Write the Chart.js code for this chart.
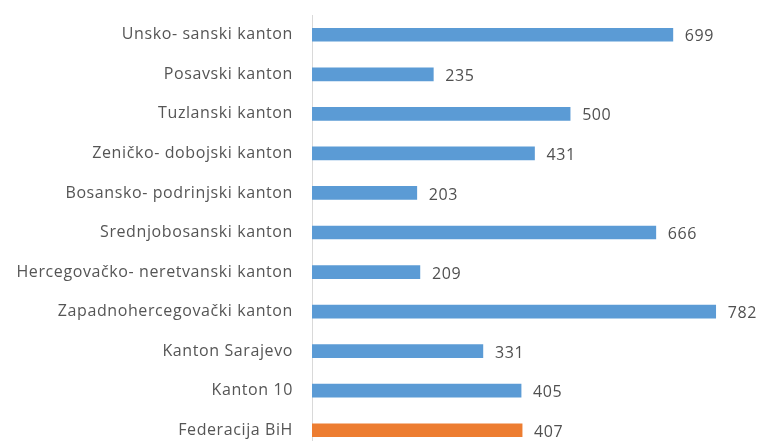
<!DOCTYPE html>
<html>
<head>
<meta charset="utf-8">
<script src="https://cdn.jsdelivr.net/npm/chart.js@4/dist/chart.umd.min.js"></script>
<style>
html,body{margin:0;padding:0;background:#fff;overflow:hidden;}
#wrap{position:absolute;left:0;top:0;width:762px;height:468px;}
</style>
</head>
<body>
<div id="wrap"><canvas id="c" width="762" height="468"></canvas></div>
<script>
const categories = [
  "Unsko- sanski kanton",
  "Posavski kanton",
  "Tuzlanski kanton",
  "Zeničko- dobojski kanton",
  "Bosansko- podrinjski kanton",
  "Srednjobosanski kanton",
  "Hercegovačko- neretvanski kanton",
  "Zapadnohercegovački kanton",
  "Kanton Sarajevo",
  "Kanton 10",
  "Federacija BiH"
];
const values = [699, 235, 500, 431, 203, 666, 209, 782, 331, 405, 407];
const blue = "#5B9BD5";
const orange = "#ED7D31";
const barColors = categories.map((c, i) => i === categories.length - 1 ? orange : blue);

const spacing = {
  id: 'spacing',
  beforeDraw(chart) { chart.ctx.letterSpacing = '0.6px'; }
};

const valueLabels = {
  id: 'valueLabels',
  afterDatasetsDraw(chart) {
    const ctx = chart.ctx;
    const meta = chart.getDatasetMeta(0);
    ctx.save();
    ctx.font = '16px "Open Sans", sans-serif';
    ctx.fillStyle = '#505050';
    ctx.textAlign = 'left';
    ctx.textBaseline = 'middle';
    meta.data.forEach((bar, i) => {
      ctx.fillText(String(values[i]), bar.x + 12, bar.y + 2);
    });
    ctx.restore();
  }
};

new Chart(document.getElementById('c'), {
  type: 'bar',
  data: {
    labels: categories,
    datasets: [{
      data: values,
      backgroundColor: barColors,
      borderWidth: 0,
      barThickness: 13
    }]
  },
  options: {
    indexAxis: 'y',
    responsive: false,
    animation: false,
    layout: { padding: { top: 15, bottom: 18, right: 37, left: 0 } },
    plugins: { legend: { display: false }, tooltip: { enabled: false } },
    scales: {
      x: { display: false, min: 0, max: 800 },
      y: {
        afterFit(scale) {
          scale.width = 312;
          scale.paddingTop = 0;
          scale.paddingBottom = 0;
        },
        grid: { display: false, drawTicks: false },
        border: { display: true, color: '#d9d9d9', width: 1 },
        ticks: {
          padding: 19,
          color: '#555555',
          font: { family: '"Open Sans", sans-serif', size: 16 }
        }
      }
    }
  },
  plugins: [spacing, valueLabels]
});
</script>
</body>
</html>
